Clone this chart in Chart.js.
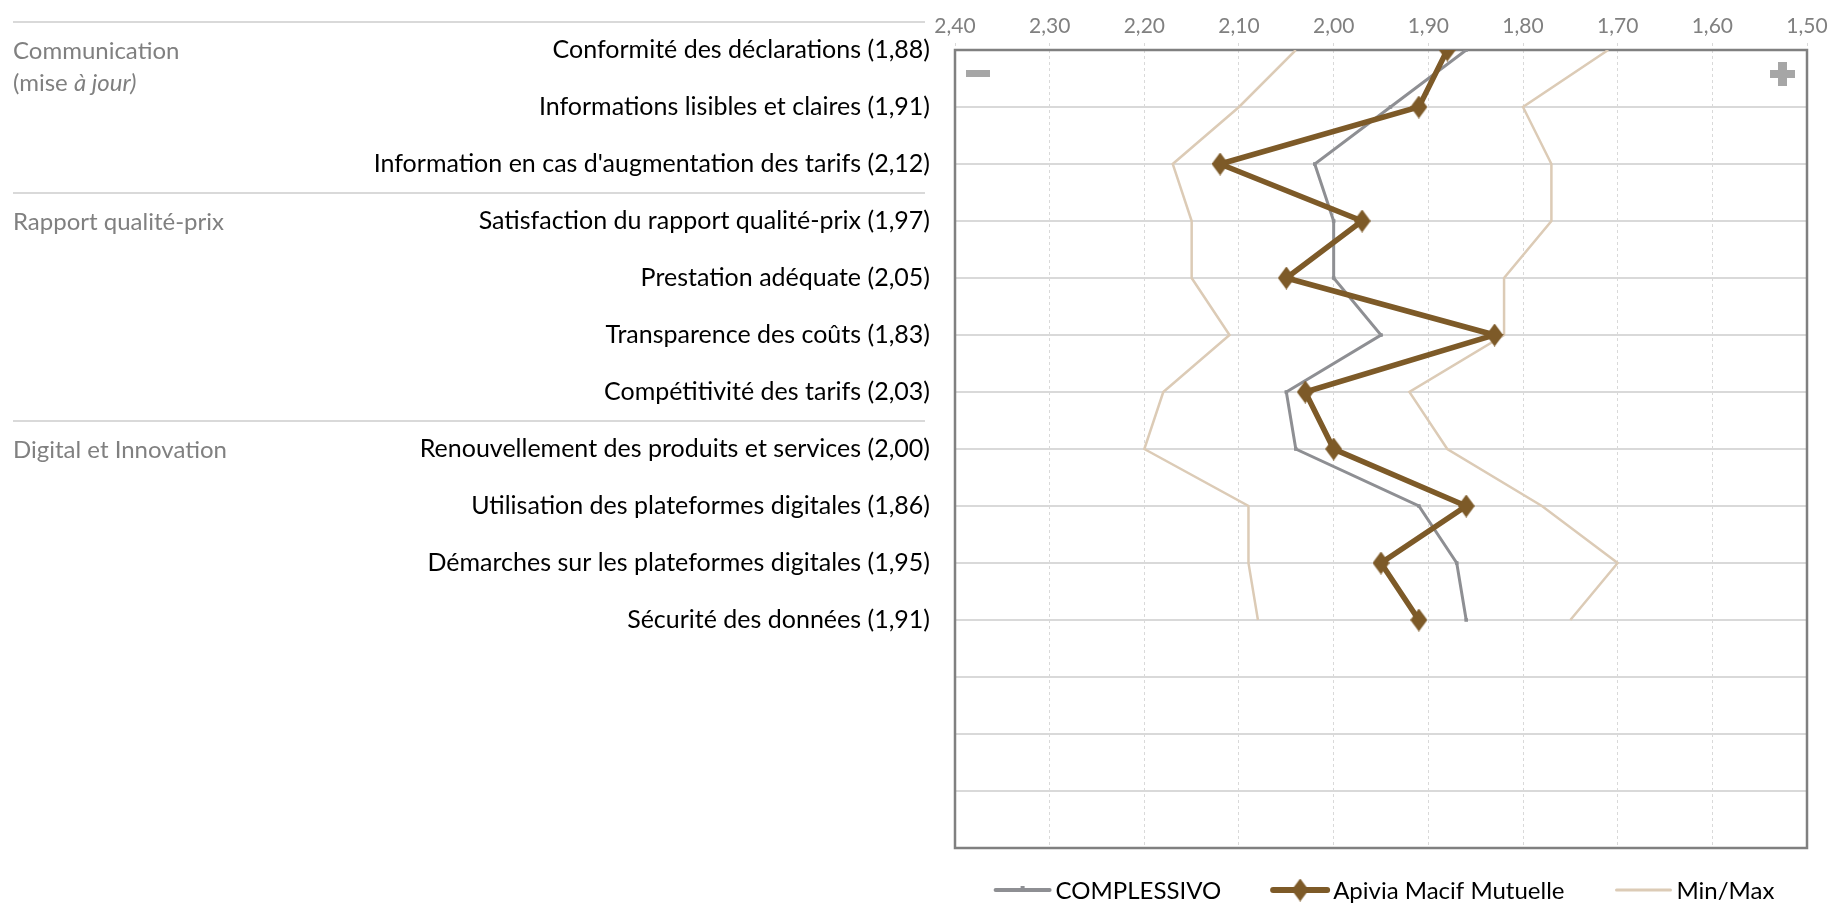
<!DOCTYPE html>
<html lang="fr">
<head>
<meta charset="utf-8">
<title>Indicateurs Apivia Macif Mutuelle</title>
<script src="https://cdn.jsdelivr.net/npm/chart.js@4.4.1/dist/chart.umd.min.js"></script>
<style>
  html, body { margin: 0; padding: 0; background: #fff; }
  #wrap { width: 1829px; height: 904px; }
</style>
</head>
<body>
<div id="wrap"><canvas id="chart" width="1829" height="904"></canvas></div>
<script>
// ---- données ----
const categories = [
    'Conformité des déclarations',
    'Informations lisibles et claires',
    "Information en cas d'augmentation des tarifs",
    'Satisfaction du rapport qualité-prix',
    'Prestation adéquate',
    'Transparence des coûts',
    'Compétitivité des tarifs',
    'Renouvellement des produits et services',
    'Utilisation des plateformes digitales',
    'Démarches sur les plateformes digitales',
    'Sécurité des données'
];
const apivia      = [1.88, 1.91, 2.12, 1.97, 2.05, 1.83, 2.03, 2.00, 1.86, 1.95, 1.91];
const complessivo = [1.86, 1.94, 2.02, 2.00, 2.00, 1.95, 2.05, 2.04, 1.91, 1.87, 1.86];
const minMaxHigh  = [2.04, 2.10, 2.17, 2.15, 2.15, 2.11, 2.18, 2.20, 2.09, 2.09, 2.08];
const minMaxLow   = [1.71, 1.80, 1.77, 1.77, 1.82, 1.82, 1.92, 1.88, 1.78, 1.70, 1.75];

const groupLabels = ['Communication', 'Rapport qualité-prix', 'Digital et Innovation'];
const groupRows   = [0, 3, 7];
const groupBreaks = [-0.5, 2.5, 6.5];

const xMin = 1.50, xMax = 2.40, xStep = 0.10;
const rowCount = 14;   // lignes de grille (11 items + 3 vides)

const FONT = 'Lato, "Open Sans", sans-serif';
const COLORS = {
    apivia: '#7d5a28',
    total: '#8e8f93',
    band: '#dccbb6',
    grid: '#d9d9d9',
    frame: '#808080',
    muted: '#808080'
};

const fmt = v => v.toFixed(2).replace('.', ',');
const toPoints = vals => vals.map((v, i) => ({ x: v, y: i }));
const rowLabels = categories.map((c, i) => `${c} (${fmt(apivia[i])})`);

// losange un peu plus haut que large, comme dans l'original
function makeDiamond(w, h, color) {
    const c = document.createElement('canvas');
    c.width = w; c.height = h;
    const g = c.getContext('2d');
    g.fillStyle = color;
    g.beginPath();
    g.moveTo(w / 2, 0);
    g.lineTo(w, h / 2);
    g.lineTo(w / 2, h);
    g.lineTo(0, h / 2);
    g.closePath();
    g.fill();
    return c;
}
const diamond = makeDiamond(17, 23, COLORS.apivia);

// cadre, signes - / +, groupes à gauche, légende
const decorPlugin = {
    id: 'decor',
    beforeDatasetsDraw(chart) {
        const { ctx, chartArea: a, scales: { y } } = chart;
        ctx.save();
        ctx.strokeStyle = COLORS.frame;
        ctx.lineWidth = 2.5;
        ctx.strokeRect(a.left, a.top, a.right - a.left, a.bottom - a.top);

        ctx.fillStyle = '#a6a6a6';
        ctx.fillRect(a.left + 11, a.top + 20, 24, 7);
        ctx.fillRect(a.right - 37, a.top + 20, 25, 8);
        ctx.fillRect(a.right - 29, a.top + 12, 9, 24);

        // séparateurs de groupes
        ctx.strokeStyle = COLORS.grid;
        ctx.lineWidth = 2;
        for (const b of groupBreaks) {
            const py = Math.round(y.getPixelForValue(b));
            ctx.beginPath();
            ctx.moveTo(13, py);
            ctx.lineTo(925, py);
            ctx.stroke();
        }

        ctx.fillStyle = COLORS.muted;
        ctx.textBaseline = 'middle';
        ctx.textAlign = 'left';
        ctx.font = `24px ${FONT}`;
        groupLabels.forEach((g, i) => {
            ctx.fillText(g, 13, y.getPixelForValue(groupRows[i]) + 1);
        });
        // (mise à jour)
        const subY = y.getPixelForValue(0) + 33;
        ctx.fillText('(mise ', 13, subY);
        const w = ctx.measureText('(mise ').width;
        ctx.font = `italic 24px ${FONT}`;
        ctx.fillText('à jour)', 13 + w, subY);
        ctx.restore();
    },
    afterDraw(chart) {
        const { ctx, chartArea: a } = chart;
        const items = [
            { label: 'COMPLESSIVO', color: COLORS.total, lw: 4, mark: 'tick' },
            { label: 'Apivia Macif Mutuelle', color: COLORS.apivia, lw: 6, mark: 'diamond' },
            { label: 'Min/Max', color: COLORS.band, lw: 3, mark: null }
        ];
        const lineLen = 54, gapText = 6, gapItem = 52;
        ctx.save();
        ctx.font = `24px ${FONT}`;
        ctx.textBaseline = 'middle';
        const widths = items.map(it => lineLen + gapText + ctx.measureText(it.label).width);
        const total = widths.reduce((s, w) => s + w, 0) + gapItem * (items.length - 1);
        let x = (a.left + a.right) / 2 + 4 - total / 2;
        const ly = 890;
        items.forEach((it, i) => {
            ctx.strokeStyle = it.color;
            ctx.lineWidth = it.lw;
            ctx.lineCap = 'round';
            ctx.beginPath();
            ctx.moveTo(x, ly);
            ctx.lineTo(x + lineLen, ly);
            ctx.stroke();
            ctx.fillStyle = it.color;
            const cx = x + lineLen / 2;
            if (it.mark === 'diamond') {
                ctx.drawImage(diamond, cx - diamond.width / 2, ly - diamond.height / 2);
            } else if (it.mark === 'tick') {
                ctx.fillRect(cx - 2, ly - 4, 4, 6);
            }
            ctx.fillStyle = '#000';
            ctx.fillText(it.label, x + lineLen + gapText, ly + 1);
            x += widths[i] + gapItem;
        });
        ctx.restore();
    }
};

new Chart(document.getElementById('chart'), {
    type: 'line',
    data: {
        datasets: [
            {
                label: 'Apivia Macif Mutuelle',
                data: toPoints(apivia),
                borderColor: COLORS.apivia,
                backgroundColor: COLORS.apivia,
                borderWidth: 5.5,
                pointStyle: diamond,
                pointRadius: 11,
                order: 0
            },
            {
                label: 'COMPLESSIVO',
                data: toPoints(complessivo),
                borderColor: COLORS.total,
                backgroundColor: COLORS.total,
                borderWidth: 3,
                pointStyle: 'rect',
                pointRadius: 2.5,
                pointBorderWidth: 0,
                order: 1
            },
            {
                label: 'Min/Max',
                data: toPoints(minMaxHigh),
                borderColor: COLORS.band,
                borderWidth: 2.5,
                pointRadius: 0,
                order: 2
            },
            {
                label: 'Min/Max',
                data: toPoints(minMaxLow),
                borderColor: COLORS.band,
                borderWidth: 2.5,
                pointRadius: 0,
                order: 2
            }
        ]
    },
    options: {
        responsive: false,
        animation: false,
        indexAxis: 'y',
        layout: { padding: { top: 0, right: 22, bottom: 56, left: 0 } },
        plugins: {
            legend: { display: false },
            tooltip: { enabled: false }
        },
        elements: { line: { tension: 0, borderJoinStyle: 'miter' } },
        scales: {
            x: {
                type: 'linear',
                position: 'top',
                reverse: true,
                min: xMin, max: xMax,
                afterBuildTicks: scale => {
                    const t = [];
                    for (let v = xMin; v <= xMax + 1e-9; v += xStep) t.push({ value: Math.round(v * 100) / 100 });
                    scale.ticks = t;
                },
                afterFit: scale => { scale.height = 50; },
                border: { display: false, dash: [3, 3] },
                grid: { color: COLORS.grid, lineWidth: 1, tickLength: 7, drawTicks: true, tickBorderDash: [3, 3] },
                ticks: {
                    color: COLORS.muted,
                    font: { family: FONT, size: 21 },
                    padding: 4,
                    maxRotation: 0,
                    autoSkip: false,
                    callback: v => fmt(v)
                }
            },
            y: {
                type: 'linear',
                reverse: true,
                min: 0, max: rowCount,
                afterFit: scale => { scale.width = 955; },
                border: { display: false },
                grid: { color: COLORS.grid, lineWidth: 2, drawTicks: false },
                ticks: {
                    stepSize: 1,
                    autoSkip: false,
                    padding: 25,
                    color: '#000',
                    font: { family: FONT, size: 25 },
                    callback: v => rowLabels[v] ?? ''
                }
            }
        }
    },
    plugins: [decorPlugin]
});
</script>
</body>
</html>
